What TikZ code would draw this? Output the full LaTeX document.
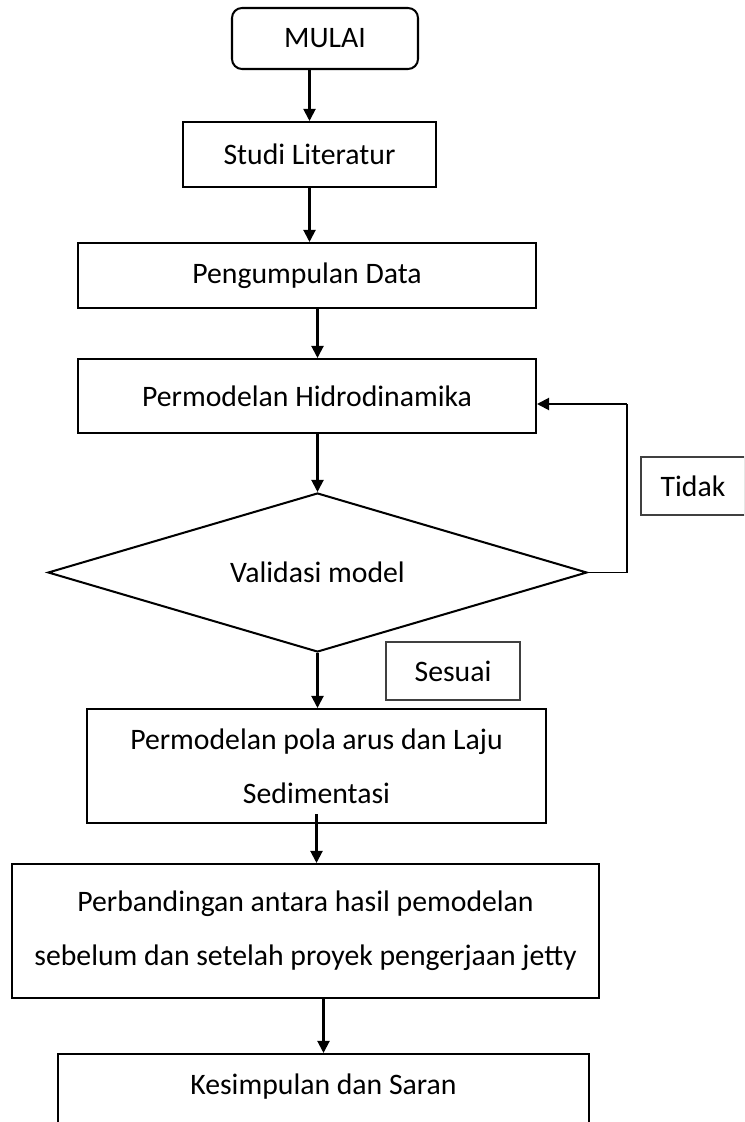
\documentclass[tikz,border=0pt]{standalone}
\usepackage{fontspec}
\setmainfont{Carlito}
\usetikzlibrary{arrows.meta,shapes.geometric}
\def\px{0.37pt}
\begin{document}
\begin{tikzpicture}[x=\px,y=-\px,
  kotak/.style={draw,line width=0.75pt,inner sep=0pt,align=center,font=\fontsize{11}{20}\selectfont},
  keterangan/.style={draw=black!75,line width=0.4pt,inner sep=0pt,font=\fontsize{11}{13}\selectfont},
  panah/.style={line width=0.75pt,-{Triangle[length=4.5pt,width=4.5pt]}},
  garis/.style={line width=0.4pt}]
 \useasboundingbox (0,0) rectangle (744,1122);
 \clip (0,0) rectangle (744,1122);
 % kotak proses
 \node [kotak,rounded corners=3.7pt,minimum width=186*\px,minimum height=61*\px] (mulai) at (325,38.5) {MULAI};
 \node [kotak,minimum width=253*\px,minimum height=65*\px] (studi) at (309.5,154.5) {Studi Literatur};
 \node [kotak,minimum width=458*\px,minimum height=65*\px] (data) at (307,275.5) {Pengumpulan Data};
 \node [kotak,minimum width=458*\px,minimum height=74*\px] (hidro) at (307,396) {Permodelan Hidrodinamika};
 \node [kotak,diamond,aspect=3.4,minimum width=539*\px,minimum height=159*\px] (validasi) at (317.5,572.5) {Validasi model};
 \node [kotak,minimum width=459*\px,minimum height=114*\px] (pola) at (316.5,766) {Permodelan pola arus dan Laju\\Sedimentasi};
 \node [kotak,minimum width=587*\px,minimum height=134*\px] (banding) at (305.5,931) {Perbandingan antara hasil pemodelan\\sebelum dan setelah proyek pengerjaan jetty};
 \node [kotak,minimum width=531*\px,minimum height=130*\px] (simpul) at (323.5,1119) {Kesimpulan dan Saran\\\strut};
 % keterangan
 \node [keterangan,minimum width=104*\px,minimum height=58*\px] (tidak) at (693,486) {Tidak};
 \node [keterangan,minimum width=134*\px,minimum height=58*\px] (sesuai) at (453,671) {Sesuai};
 % alur
 \draw [panah] (mulai.south -| studi) -- (studi.north);
 \draw [panah] (studi.south) -- (studi.south |- data.north);
 \draw [panah] (data.south -| validasi) -- (hidro.north -| validasi);
 \draw [panah] (hidro.south -| validasi) -- (validasi.north);
 \draw [panah] (validasi.south) -- (validasi.south |- pola.north);
 \draw [panah] ([yshift=10*\px]pola.south) -- (pola.south |- banding.north);
 \draw [panah] (banding.south -| simpul) -- (simpul.north);
 \coordinate (balik) at (627,404);
 \draw [garis] (validasi.east) -| (balik);
 \draw [panah] (balik) -- (balik -| hidro.east);
\end{tikzpicture}
\end{document}
